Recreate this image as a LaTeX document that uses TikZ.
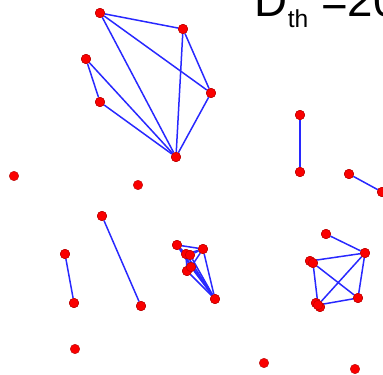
\documentclass[tikz,border=0pt]{standalone}
\usepackage{fontspec}
\setmainfont{Liberation Sans}
\usepackage{tikz}
\usetikzlibrary{positioning}
\definecolor{linkblue}{RGB}{40,40,255}
\definecolor{dotred}{RGB}{250,0,0}
\tikzset{
    reddot/.style={
        circle,
        fill=dotred,
        draw=dotred!70!black,
        line width=0.2pt,
        inner sep=0pt,
        minimum size=0.19cm
    },
    % blue edges between the dots
    bluelink/.style={
        line width=0.85pt,
        linkblue
    }
}

\begin{document}
\begin{tikzpicture}[x=0.02cm,y=-0.02cm]
   \useasboundingbox (0,0) rectangle (383,375);
   \begin{scope}
   \clip (0,0) rectangle (383,375);
   % upper cluster
   \node[reddot] (a1) at (100,13) {};
   \node[reddot] (a2) at (183,29) {};
   \node[reddot] (a3) at (86,59) {};
   \node[reddot] (a4) at (100,102) {};
   \node[reddot] (a5) at (211,93) {};
   \node[reddot] (a6) at (176,157) {};
   % single dots
   \node[reddot] (s1) at (14,176) {};
   \node[reddot] (s2) at (138,185) {};
   \node[reddot] (s3) at (75,349) {};
   \node[reddot] (s4) at (264,363) {};
   \node[reddot] (s5) at (355,369) {};
   % pairs
   \node[reddot] (p1) at (300,115) {};
   \node[reddot] (p2) at (300,172) {};
   \node[reddot] (p3) at (349,174) {};
   \node[reddot] (p4) at (382,192) {};
   \node[reddot] (p5) at (102,216) {};
   \node[reddot] (p6) at (141,306) {};
   \node[reddot] (p7) at (65,254) {};
   \node[reddot] (p8) at (74,303) {};
   % middle cluster
   \node[reddot] (m1) at (177,245) {};
   \node[reddot] (m2) at (203,249) {};
   \node[reddot] (m3) at (186,254) {};
   \node[reddot] (m4) at (190,255) {};
   \node[reddot] (m5) at (187,271) {};
   \node[reddot] (m6) at (191,267) {};
   \node[reddot] (m7) at (215,299) {};
   % right cluster
   \node[reddot] (r1) at (326,234) {};
   \node[reddot] (r2) at (365,253) {};
   \node[reddot] (r3) at (310,261) {};
   \node[reddot] (r4) at (313,263) {};
   \node[reddot] (r5) at (358,298) {};
   \node[reddot] (r6) at (316,303) {};
   \node[reddot] (r7) at (320,307) {};
   \node[reddot] (r8) at (318,305) {};

   \draw[bluelink] (a1) -- (a2);
   \draw[bluelink] (a1) -- (a5);
   \draw[bluelink] (a1) -- (a6);
   \draw[bluelink] (a2) -- (a5);
   \draw[bluelink] (a2) -- (a6);
   \draw[bluelink] (a5) -- (a6);
   \draw[bluelink] (a3) -- (a4);
   \draw[bluelink] (a3) -- (a6);
   \draw[bluelink] (a4) -- (a6);
   \draw[bluelink] (p1) -- (p2);
   \draw[bluelink] (p3) -- (p4);
   \draw[bluelink] (p5) -- (p6);
   \draw[bluelink] (p7) -- (p8);
   \draw[bluelink] (m1) -- (m2);
   \draw[bluelink] (m1) -- (m3);
   \draw[bluelink] (m1) -- (m6);
   \draw[bluelink] (m1) -- (m7);
   \draw[bluelink] (m2) -- (m3);
   \draw[bluelink] (m2) -- (m4);
   \draw[bluelink] (m2) -- (m6);
   \draw[bluelink] (m2) -- (m7);
   \draw[bluelink] (m3) -- (m7);
   \draw[bluelink] (m4) -- (m7);
   \draw[bluelink] (m5) -- (m7);
   \draw[bluelink] (m6) -- (m7);
   \draw[bluelink] (m3) -- (m5);
   \draw[bluelink] (r1) -- (r2);
   \draw[bluelink] (r3) -- (r2);
   \draw[bluelink] (r4) -- (r5);
   \draw[bluelink] (r4) -- (r8);
   \draw[bluelink] (r8) -- (r2);
   \draw[bluelink] (r8) -- (r5);
   \draw[bluelink] (r2) -- (r5);
   % redraw the dots over the links
   \foreach \d in {a1,a2,a3,a4,a5,a6,p1,p2,p3,p4,p5,p6,p7,p8,m1,m2,m3,m4,m5,m6,m7,r1,r2,r3,r4,r5,r6,r7,r8}
      \fill[dotred,draw=dotred!70!black,line width=0.2pt] (\d) circle (0.095cm);
   \node[anchor=base west,inner sep=0pt,font=\fontsize{26}{26}\selectfont] (title) at (254.5,17) {D{\fontsize{14}{14}\selectfont\raisebox{-6.2pt}{th}} =20};
   \end{scope}
\end{tikzpicture}
\end{document}
